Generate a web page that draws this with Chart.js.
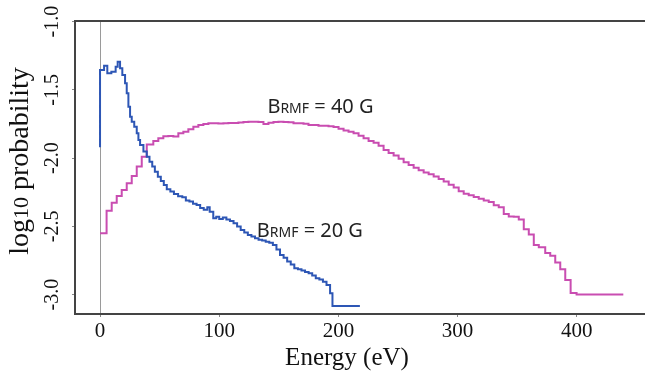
<!DOCTYPE html>
<html>
<head>
<meta charset="utf-8">
<script src="https://cdn.jsdelivr.net/npm/chart.js@4.4.1/dist/chart.umd.min.js"></script>
<style>
  html, body { margin: 0; padding: 0; background: #fff; }
  #wrap { width: 645px; height: 380px; }
</style>
</head>
<body>
<div id="wrap"><canvas id="chart" width="645" height="380"></canvas></div>
<script>
// bin left edges (eV) and log10 probability
const blueEnergy = [0, 0, 3.4, 6.1, 9.5, 13.1, 14.8, 16.8, 18.7, 21, 22.4, 23.8, 25.2, 26.6, 28.7, 30.8, 32.2, 33.6, 36.4, 39.2,
  41.5, 43.8, 46, 48.5, 51, 53.5, 56, 59, 62, 65.5, 69, 72, 75, 78, 81, 84, 87, 90, 92, 95,
  97.5, 100, 103, 106, 109, 112, 115, 118, 121, 124, 127, 130, 133, 136, 139, 142, 145, 148, 151, 154,
  157, 160, 163, 166, 169, 172, 175, 178, 181, 184, 187, 190, 193, 195, 218];
const blueLog = [-1.92, -1.354, -1.322, -1.378, -1.366, -1.33, -1.293, -1.342, -1.39, -1.451, -1.525, -1.623, -1.696, -1.733, -1.769, -1.818, -1.867, -1.903, -1.952, -1.989,
  -2.026, -2.062, -2.099, -2.136, -2.167, -2.196, -2.228, -2.245, -2.262, -2.28, -2.287, -2.31, -2.318, -2.335, -2.343, -2.365, -2.379, -2.36, -2.392, -2.44,
  -2.43, -2.445, -2.435, -2.45, -2.46, -2.477, -2.5, -2.526, -2.545, -2.563, -2.575, -2.587, -2.598, -2.604, -2.612, -2.62, -2.636, -2.67, -2.709, -2.73,
  -2.758, -2.78, -2.807, -2.815, -2.824, -2.835, -2.843, -2.86, -2.88, -2.89, -2.905, -2.929, -2.99, -3.083, -3.083];

const pinkEnergy = [0, 5.5, 9.8, 14, 18.2, 22.4, 26.6, 30.8, 35, 39.2, 44.7, 48.9, 53.1, 57.3, 61.5, 65.7, 69.9, 74.1, 78.3, 82.5,
  86.7, 90.9, 95.1, 99.3, 103.5, 107.7, 111.9, 116.1, 120.3, 124.5, 128.7, 132.9, 137.1, 141.3, 145.5, 149.7, 153.9, 158.1, 162.3, 166.5,
  170.7, 174.9, 179.1, 183.3, 187.5, 191.7, 195.9, 200.1, 204.3, 208.5, 212.7, 216.9, 221.1, 225.3, 229.5, 233.7, 237.9, 242.1, 246.3, 250.5,
  254.7, 258.9, 263.1, 267.3, 271.5, 275.7, 279.9, 284.1, 288.3, 292.5, 296.7, 300.9, 305.1, 309.3, 313.5, 317.7, 321.9, 326.1, 330.3, 334.5,
  338.7, 342.9, 347.1, 351.3, 355.5, 359.7, 363.9, 368.1, 373.5, 377.7, 381.9, 386.1, 390.3, 394.8, 399.8, 439];
const pinkLog = [-2.55, -2.385, -2.326, -2.277, -2.233, -2.184, -2.13, -2.062, -1.989, -1.9, -1.875, -1.854, -1.84, -1.837, -1.842, -1.818, -1.806, -1.788, -1.769, -1.757,
  -1.749, -1.745, -1.744, -1.746, -1.744, -1.742, -1.742, -1.738, -1.735, -1.733, -1.733, -1.735, -1.749, -1.74, -1.735, -1.733, -1.735, -1.737, -1.744, -1.744,
  -1.747, -1.757, -1.757, -1.762, -1.762, -1.766, -1.772, -1.785, -1.798, -1.806, -1.818, -1.835, -1.855, -1.875, -1.888, -1.91, -1.94, -1.962, -1.98, -2.005,
  -2.03, -2.05, -2.07, -2.088, -2.105, -2.118, -2.135, -2.152, -2.172, -2.195, -2.215, -2.243, -2.26, -2.272, -2.285, -2.298, -2.31, -2.322, -2.345, -2.36,
  -2.41, -2.428, -2.43, -2.45, -2.521, -2.56, -2.636, -2.653, -2.695, -2.715, -2.764, -2.814, -2.892, -2.988, -3.0, -3.0];

const xTicks = [0, 100, 200, 300, 400];
const yTicks = [-3.0, -2.5, -2.0, -1.5, -1.0];
const fieldLabels = ["40 G", "20 G"];

const toPoints = (xs, ys) => xs.map((x, i) => ({ x: x, y: ys[i] }));

const SERIF = "'Liberation Serif', 'Times New Roman', serif";
const SANS = "'Noto Sans', 'Open Sans', sans-serif";

// texts: axis titles and the B_RMF labels
const textPlugin = {
  id: "texts",
  afterDraw(chart) {
    const c = chart.ctx;
    const xs = chart.scales.x, ys = chart.scales.y;
    c.save();
    c.fillStyle = "#111";
    c.textBaseline = "alphabetic";

    // x title
    c.font = "25px " + SERIF;
    c.textAlign = "center";
    c.fillText("Energy (eV)", 347, 365);

    // y title, "10" a bit smaller
    c.textAlign = "left";
    const parts = [["log", 28], ["10", 22], [" probability", 28]];
    let total = 0;
    parts.forEach(p => { c.font = p[1] + "px " + SERIF; total += c.measureText(p[0]).width; });
    c.translate(28, 161);
    c.rotate(-Math.PI / 2);
    let px = -total / 2;
    parts.forEach(p => { c.font = p[1] + "px " + SERIF; c.fillText(p[0], px, 0); px += c.measureText(p[0]).width; });
    c.setTransform(1, 0, 0, 1, 0, 0);

    // B_RMF labels
    c.fillStyle = "#222";
    const drawB = (txt, ex, ly) => {
      let x = xs.getPixelForValue(ex);
      const y = ys.getPixelForValue(ly);
      c.font = "20px " + SANS; c.fillText("B", x, y); x += c.measureText("B").width;
      c.font = "14px " + SANS; c.fillText("RMF", x, y); x += c.measureText("RMF").width;
      c.font = "20px " + SANS; c.fillText(" = " + txt, x, y);
    };
    drawB(fieldLabels[0], 140.4, -1.671);
    drawB(fieldLabels[1], 131.5, -2.575);
    c.restore();
  }
};

new Chart(document.getElementById("chart"), {
  type: "line",
  data: {
    datasets: [
      { data: toPoints(blueEnergy, blueLog), borderColor: "#2D56B5", borderWidth: 2, stepped: "before", pointRadius: 0, fill: false },
      { data: toPoints(pinkEnergy, pinkLog), borderColor: "#C94DB1", borderWidth: 2, stepped: "before", pointRadius: 0, fill: false }
    ]
  },
  options: {
    responsive: false,
    animation: false,
    events: [],
    layout: { padding: { top: 21, right: 0, bottom: 0, left: 0 } },
    plugins: { legend: { display: false }, tooltip: { enabled: false } },
    scales: {
      x: {
        type: "linear",
        min: -21, max: 457.2,
        afterFit: s => { s.height = 66; },
        afterBuildTicks: s => { s.ticks = xTicks.map(v => ({ value: v })); },
        ticks: { font: { family: SERIF, size: 21 }, color: "#111", padding: 2, maxRotation: 0, callback: v => String(v) },
        grid: {
          drawOnChartArea: true,
          color: ctx => (ctx.tick && ctx.tick.value === 0 ? "#9a9a9a" : "rgba(0,0,0,0)"),
          tickColor: "#888", tickLength: 3, lineWidth: 1
        },
        border: { display: true, color: "#444", width: 2 }
      },
      xTop: {
        type: "linear",
        position: "top",
        min: -21, max: 457.2,
        afterFit: s => { s.height = 0; },
        ticks: { display: false },
        grid: { display: false },
        border: { display: true, color: "#444", width: 2 }
      },
      y: {
        min: -3.142, max: -0.995,
        afterFit: s => { s.width = 75; },
        afterBuildTicks: s => { s.ticks = yTicks.map(v => ({ value: v })); },
        ticks: { font: { family: SERIF, size: 20 }, color: "#111", padding: 3, minRotation: 90, maxRotation: 90, crossAlign: "center", callback: v => v.toFixed(1) },
        grid: { drawOnChartArea: false, tickColor: "#888", tickLength: 3 },
        border: { display: true, color: "#444", width: 2 }
      }
    }
  },
  plugins: [textPlugin]
});
</script>
</body>
</html>
